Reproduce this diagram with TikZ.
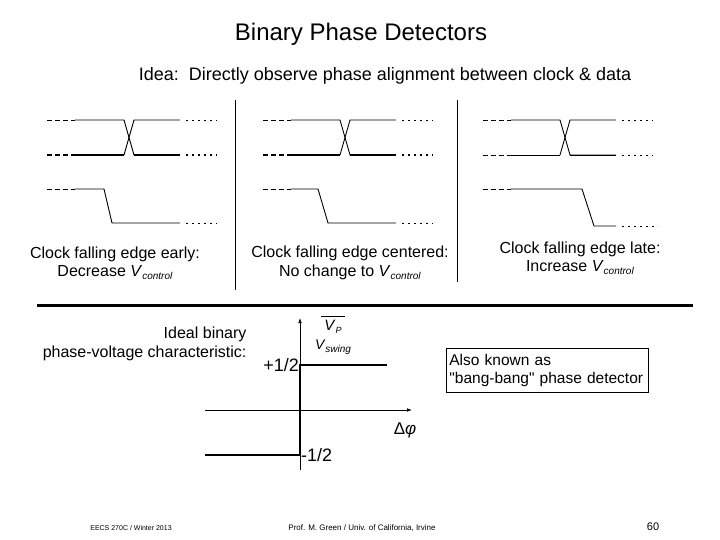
\documentclass[tikz,border=0pt]{standalone}
\usepackage{fontspec}
\setmainfont{Liberation Sans}
\newfontfamily\plainf{Liberation Sans}
\usetikzlibrary{arrows.meta}
\newcommand{\vsub}[1]{\textit{V}\raisebox{-0.35ex}{\fontsize{10}{11}\selectfont\textit{#1}}}
\begin{document}
\begin{tikzpicture}[x=1pt,y=-1pt,
  sig/.style={line width=0.9pt},
  sigt/.style={line width=1.6pt},
  dsh/.style={dash pattern=on 5pt off 3pt},
  dotl/.style={dash pattern=on 2pt off 4pt},
  captxt/.style={font=\fontsize{16}{18.5}\selectfont, align=center},
  lbl/.style={font=\fontsize{18}{20}\selectfont}]
\useasboundingbox (0,0) rectangle (720,540);
\node[font=\fontsize{24}{26}\selectfont] (title) at (361,34) {Binary Phase Detectors};
\node[font=\fontsize{18}{20}\selectfont] (idea) at (385,76) {Idea:\ \ Directly observe phase alignment between clock \& data};
% panels
\foreach \o/\mw in {0/1.6pt, 216/1.6pt, 436/0.9pt}{
  \begin{scope}[xshift=\o]
  \draw[sig,dsh] (47,120) -- (75,120);
  \draw[line width=\mw,dsh] (47,155) -- (75,155);
  \draw[sig] (75,120) -- (124,120) -- (134,155) -- (180,155);
  \draw[line width=\mw] (75,155) -- (124,155);
  \draw[sig] (124,155) -- (134,120) -- (180,120);
  \draw[line width=\mw] (134,155) -- (180,155);
  \draw[sig,dotl] (186,120) -- (217,120);
  \draw[line width=\mw,dotl] (186,155) -- (217,155);
  \draw[sig,dsh] (47,189) -- (75,189);
  \end{scope}
}
\draw[sig] (75,189) -- (104,189) -- (112,223) -- (180,223);
\draw[sig] (291,189) -- (318,189) -- (328,223) -- (396,223);
\draw[sig] (511,189) -- (582,189) -- (594,226) -- (616,226);
\draw[sig,dotl] (186,223) -- (217,223);
\draw[sig,dotl] (402,223) -- (433,223);
\draw[sig,dotl] (622,226) -- (658,226);
\coordinate (s1a) at (235,100); \coordinate (s1b) at (235,290);
\coordinate (s2a) at (457,100); \coordinate (s2b) at (457,282);
\draw[sig] (s1a) -- (s1b);
\draw[sig] (s2a) -- (s2b);
\node[captxt] (c1) at (115,263) {Clock falling edge early:\\Decrease \vsub{control}};
\node[captxt] (c2) at (350,263) {Clock falling edge centered:\\No change to \vsub{control}};
\node[captxt] (c3) at (580,258) {Clock falling edge late:\\Increase \vsub{control}};
\coordinate (hl) at (37,305); \coordinate (hr) at (693,305);
\draw[line width=3pt] (hl) -- (hr);
% graph
\coordinate (yb) at (300,470); \coordinate (yt) at (300,318);
\coordinate (xl) at (205,410); \coordinate (xr) at (412,410);
\draw[sig,-{Latex[length=5pt]}] (yb) -- (yt);
\draw[sig,-{Latex[length=5pt]}] (xl) -- (xr);
\coordinate (p1) at (300,365); \coordinate (p2) at (387,365);
\coordinate (n1) at (300,455); \coordinate (n2) at (205,455);
\draw[sigt] (p2) -- (p1) -- (n1) -- (n2);
\node[lbl,anchor=east,inner sep=1pt] (ph) at (p1) {+1/2};
\node[lbl,anchor=west,inner sep=1pt] (nh) at (n1) {-1/2};
\node[font=\fontsize{17}{18}\selectfont] (dphi) at (405,430) {Δ\textit{φ}};
\node[font=\fontsize{15}{15}\selectfont] (vp) at (333,327) {\textit{V}\raisebox{-0.3ex}{\fontsize{9}{10}\selectfont\textit{P}}};
\draw[sig] (321,316) -- (345,316);
\node[font=\fontsize{14}{15}\selectfont] (vs) at (333,347) {\vsub{swing}};
\node[captxt,font=\fontsize{16}{18.5}\selectfont,align=right,anchor=east] (ideal) at (250,344) {Ideal binary\\phase-voltage characteristic:};
\node[draw,line width=0.8pt,font=\fontsize{15.5}{18}\selectfont,align=left,anchor=north west,minimum width=202pt,minimum height=44pt,inner sep=3pt,text width=196pt] (box) at (446,348) {Also known as\\{\plainf "bang-bang"} phase detector};
\node[font=\fontsize{7}{8}\selectfont] (f1) at (131,528) {EECS 270C / Winter 2013};
\node[font=\fontsize{8}{9}\selectfont] (f2) at (362,528) {Prof. M. Green / Univ. of California, Irvine};
\node[font=\fontsize{11}{12}\selectfont] (f3) at (653,527) {60};
\end{tikzpicture}
\end{document}
